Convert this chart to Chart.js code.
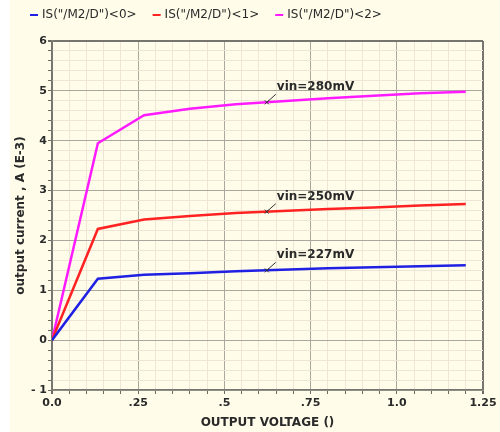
<!DOCTYPE html>
<html>
<head>
<meta charset="UTF-8">
<title>Output current vs output voltage</title>
<style>
body {
	margin: 0;
	background-color: #ffffff;
}
#wrap {
	width: 500px;
	height: 432px;
}
</style>
<script src="https://cdn.jsdelivr.net/npm/chart.js"></script>
</head>
<body>
<div id="wrap">
	<canvas id="ivChart" width="500" height="432"></canvas>
</div>
<script>
// sweep points (V) and drain currents (mA)
const vout = [0, 0.133, 0.267, 0.4, 0.533, 0.667, 0.8, 0.933, 1.067, 1.2];
const is0 = [0, 1.23, 1.31, 1.34, 1.38, 1.41, 1.44, 1.46, 1.48, 1.50];
const is1 = [0, 2.23, 2.42, 2.49, 2.55, 2.59, 2.63, 2.66, 2.70, 2.73];
const is2 = [0, 3.95, 4.51, 4.64, 4.73, 4.79, 4.85, 4.90, 4.95, 4.98];

const seriesNames = ['IS("/M2/D")<0>', 'IS("/M2/D")<1>', 'IS("/M2/D")<2>'];
const seriesColors = ['#2020e4', '#ff2222', '#ff1aff'];
const vinLabels = ['vin=227mV', 'vin=250mV', 'vin=280mV'];
const vinMarkX = 0.623;

const xTickLabels = ['0.0', '.25', '.5', '.75', '1.0', '1.25'];
const yTickLabels = ['- 1', '0', '1', '2', '3', '4', '5', '6'];

const CREAM = '#fffdea';
const MINOR = '#efe5d5';
const MAJOR = '#aaa89c';
const FRAME = '#76766e';
const TEXT = '#2a2a2a';
const FONT = 'DejaVu Sans';

function toPoints(ys) {
	return vout.map((v, i) => ({ x: v, y: ys[i] }));
}

function near(v, step) {
	return Math.abs(v / step - Math.round(v / step)) < 1e-6;
}

// cream sheet with a narrow white strip on the left
const sheet = {
	id: 'sheet',
	beforeDraw(chart) {
		const c = chart.ctx;
		c.save();
		c.fillStyle = '#ffffff';
		c.fillRect(0, 0, chart.width, chart.height);
		c.fillStyle = CREAM;
		c.fillRect(10, 0, chart.width - 10, chart.height);
		c.restore();
	}
};

// legend row at the top
const topLegend = {
	id: 'topLegend',
	afterDraw(chart) {
		const c = chart.ctx;
		c.save();
		c.font = '12px ' + FONT;
		c.textBaseline = 'middle';
		let x = 30;
		const y = 15;
		chart.data.datasets.forEach(ds => {
			c.strokeStyle = ds.borderColor;
			c.lineWidth = 2;
			c.beginPath();
			c.moveTo(x, y);
			c.lineTo(x + 8, y);
			c.stroke();
			c.fillStyle = TEXT;
			c.fillText(ds.label, x + 12, y);
			x += 12 + c.measureText(ds.label).width + 16;
		});
		c.restore();
	}
};

// "vin=..." tags hung on each curve
const vinTags = {
	id: 'vinTags',
	afterDatasetsDraw(chart) {
		const c = chart.ctx;
		const xs = chart.scales.x, ys = chart.scales.y;
		c.save();
		c.font = 'bold 12px ' + FONT;
		c.textBaseline = 'middle';
		chart.data.datasets.forEach((ds, i) => {
			const pts = ds.data;
			let yv = pts[pts.length - 1].y;
			for (let k = 1; k < pts.length; k++) {
				if (pts[k].x >= vinMarkX) {
					const t = (vinMarkX - pts[k - 1].x) / (pts[k].x - pts[k - 1].x);
					yv = pts[k - 1].y + t * (pts[k].y - pts[k - 1].y);
					break;
				}
			}
			const px = xs.getPixelForValue(vinMarkX);
			const py = ys.getPixelForValue(yv);
			c.strokeStyle = '#333333';
			c.lineWidth = 1;
			c.beginPath();
			c.moveTo(px, py);
			c.lineTo(px + 9, py - 8);
			c.moveTo(px - 2, py - 2);
			c.lineTo(px + 2, py + 2);
			c.moveTo(px - 2, py + 2);
			c.lineTo(px + 2, py - 2);
			c.stroke();
			c.fillStyle = TEXT;
			c.fillText(vinLabels[i], px + 10, py - 15);
		});
		c.restore();
	}
};

document.addEventListener('DOMContentLoaded', function() {
	const ctx = document.getElementById('ivChart').getContext('2d');

	const datasets = [is0, is1, is2].map((ys, i) => ({
		label: seriesNames[i],
		data: toPoints(ys),
		borderColor: seriesColors[i],
		backgroundColor: seriesColors[i],
		borderWidth: 2.5,
		showLine: true,
		pointRadius: 0,
		tension: 0,
		fill: false
	}));

	new Chart(ctx, {
		type: 'scatter',
		data: { datasets: datasets },
		plugins: [sheet, vinTags, topLegend],
		options: {
			responsive: false,
			animation: false,
			layout: { padding: { left: 10, right: 17, top: 41, bottom: 0 } },
			plugins: {
				legend: { display: false },
				tooltip: { enabled: false }
			},
			scales: {
				x: {
					type: 'linear',
					min: 0,
					max: 1.25,
					afterFit: s => { s.height = 42; },
					ticks: {
						stepSize: 0.05,
						autoSkip: false,
						maxRotation: 0,
						padding: 3,
						color: TEXT,
						font: { family: FONT, size: 11, weight: 'bold' },
						callback: v => near(v, 0.25) ? xTickLabels[Math.round(v / 0.25)] : ''
					},
					grid: {
						color: c => near(c.tick.value, 1.25) ? FRAME : (near(c.tick.value, 0.25) ? MAJOR : MINOR),
						lineWidth: c => near(c.tick.value, 1.25) ? 2 : 1,
						tickLength: 4,
						tickColor: '#6a6a62'
					},
					border: { color: FRAME, width: 1.5 },
					title: {
						display: true,
						text: 'OUTPUT VOLTAGE ()',
						color: TEXT,
						font: { family: FONT, size: 12, weight: 'bold' },
						padding: { top: 0, bottom: 2 }
					}
				},
				y: {
					type: 'linear',
					min: -1,
					max: 6,
					afterFit: s => { s.width = 42; },
					ticks: {
						stepSize: 0.2,
						autoSkip: false,
						padding: 1,
						color: TEXT,
						font: { family: FONT, size: 11, weight: 'bold' },
						callback: v => near(v, 1) ? yTickLabels[Math.round(v) + 1] : ''
					},
					grid: {
						color: c => Math.abs(c.tick.value - 6) < 1e-6 ? FRAME : (near(c.tick.value, 1) ? MAJOR : MINOR),
						lineWidth: c => Math.abs(c.tick.value - 6) < 1e-6 ? 2 : 1,
						tickLength: 4,
						tickColor: '#6a6a62'
					},
					border: { color: FRAME, width: 1.5 },
					title: {
						display: true,
						text: 'output current , A (E-3)',
						color: TEXT,
						font: { family: FONT, size: 12, weight: 'bold' },
						padding: { top: 4, bottom: 0 }
					}
				}
			}
		}
	});
});
</script>
</body>
</html>
